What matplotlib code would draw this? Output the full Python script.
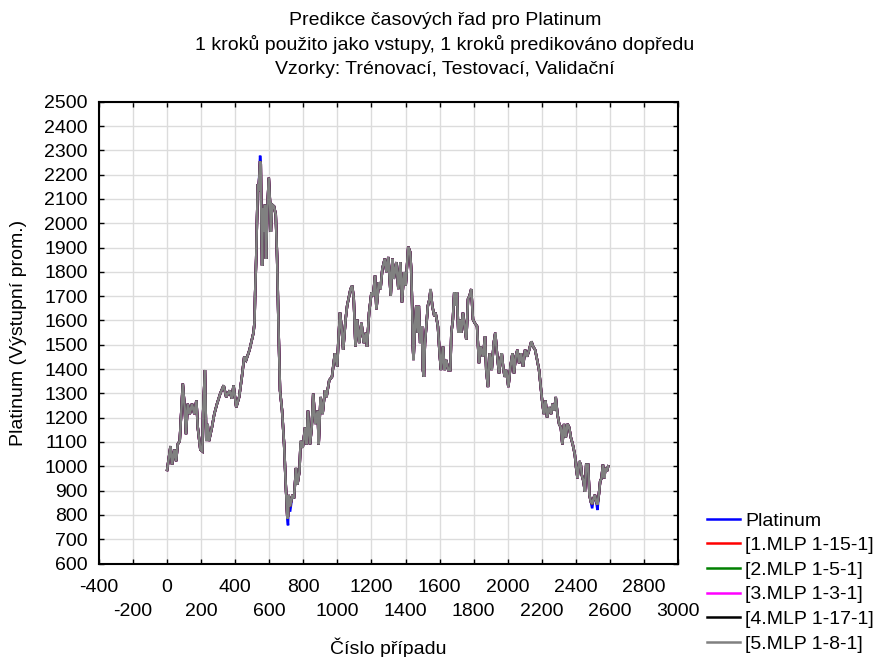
"""
plot.py

Time-series prediction chart for Platinum (Statistica style):
actual series plus five MLP one-step predictions.

Usage:
    python plot.py
"""

import matplotlib
matplotlib.use("Agg")
import matplotlib.pyplot as plt

plt.rcParams["font.family"] = ["Liberation Sans", "DejaVu Sans"]

# -------------------------------------------------------------------
# Data
# -------------------------------------------------------------------

cases = [
    0, 20, 29, 43, 53, 62, 74, 92, 103, 111, 121, 133, 146, 160, 172, 180,
    195, 207, 211, 222, 230, 238, 246, 263, 277, 293, 312, 332, 347, 367,
    380, 390, 406, 423, 439, 453, 464, 484, 498, 507, 513, 517, 523, 527,
    533, 537, 546, 550, 554, 558, 562, 568, 574, 581, 589, 597, 605, 609,
    617, 628, 638, 646, 654, 663, 675, 687, 695, 706, 710, 714, 722, 736,
    745, 757, 765, 777, 784, 796, 810, 819, 827, 839, 849, 858, 870, 884,
    890, 901, 913, 927, 936, 952, 968, 985, 999, 1005, 1015, 1024, 1034,
    1048, 1057, 1077, 1087, 1096, 1106, 1116, 1128, 1141, 1155, 1167, 1174,
    1186, 1200, 1210, 1221, 1229, 1243, 1253, 1264, 1278, 1288, 1299, 1313,
    1323, 1331, 1346, 1358, 1370, 1379, 1391, 1401, 1416, 1427, 1433, 1439,
    1443, 1447, 1455, 1463, 1471, 1478, 1486, 1496, 1502, 1508, 1514, 1522,
    1531, 1541, 1547, 1557, 1569, 1576, 1590, 1600, 1608, 1620, 1629, 1639,
    1651, 1663, 1669, 1678, 1686, 1694, 1702, 1710, 1718, 1727, 1737, 1747,
    1757, 1767, 1776, 1786, 1796, 1806, 1820, 1831, 1841, 1855, 1867, 1874,
    1884, 1894, 1906, 1918, 1927, 1937, 1949, 1957, 1965, 1973, 1982, 1992,
    2004, 2016, 2028, 2037, 2047, 2057, 2067, 2078, 2090, 2102, 2114, 2126,
    2139, 2149, 2161, 2173, 2184, 2194, 2202, 2212, 2222, 2231, 2243, 2255,
    2263, 2274, 2282, 2292, 2302, 2312, 2321, 2331, 2341, 2351, 2361, 2371,
    2382, 2394, 2402, 2410, 2420, 2429, 2435, 2445, 2453, 2461, 2472, 2480,
    2488, 2496, 2504, 2512, 2520, 2527, 2535, 2543, 2551, 2559, 2567, 2574,
    2582, 2590,
]

platinum = [
    985, 1083, 1007, 1069, 1021, 1090, 1104, 1340, 1243, 1132, 1257, 1215,
    1257, 1215, 1271, 1160, 1069, 1062, 1215, 1396, 1104, 1174, 1104, 1160,
    1215, 1257, 1299, 1333, 1285, 1312, 1278, 1333, 1243, 1285, 1368, 1451,
    1437, 1479, 1521, 1549, 1590, 1715, 1854, 1993, 2160, 2132, 2278, 2243,
    1993, 1826, 2062, 1965, 2076, 1854, 2062, 2187, 2076, 1965, 2076, 2069,
    2035, 1854, 1576, 1312, 1229, 1090, 951, 785, 757, 882, 813, 882, 868,
    993, 924, 979, 1104, 1076, 1160, 1090, 1229, 1090, 1160, 1299, 1174,
    1229, 1090, 1285, 1215, 1312, 1285, 1354, 1368, 1465, 1410, 1507, 1632,
    1576, 1479, 1604, 1660, 1729, 1743, 1688, 1493, 1604, 1507, 1590, 1507,
    1549, 1493, 1632, 1715, 1701, 1785, 1646, 1757, 1729, 1813, 1854, 1799,
    1861, 1701, 1854, 1771, 1840, 1729, 1840, 1674, 1799, 1743, 1903, 1882,
    1813, 1660, 1493, 1437, 1576, 1660, 1549, 1660, 1507, 1576, 1396, 1368,
    1507, 1576, 1660, 1688, 1729, 1660, 1618, 1632, 1576, 1465, 1396, 1493,
    1396, 1437, 1396, 1396, 1549, 1604, 1715, 1660, 1715, 1549, 1604, 1549,
    1632, 1576, 1521, 1688, 1701, 1729, 1604, 1590, 1576, 1424, 1493, 1451,
    1535, 1396, 1326, 1465, 1396, 1507, 1549, 1465, 1382, 1437, 1465, 1410,
    1368, 1396, 1326, 1410, 1465, 1382, 1451, 1479, 1424, 1465, 1410, 1479,
    1451, 1479, 1514, 1493, 1479, 1437, 1396, 1326, 1271, 1215, 1271, 1201,
    1243, 1215, 1257, 1229, 1285, 1215, 1174, 1160, 1090, 1174, 1118, 1174,
    1160, 1118, 1090, 1049, 993, 951, 1021, 1007, 965, 938, 896, 1007, 1007,
    882, 854, 827, 868, 882, 854, 820, 882, 938, 951, 1007, 951, 993, 979,
    1000,
]

# model predictions follow the actual series except at a few extremes,
# where the blue actual line sticks out
pred_overrides = {546: 2255, 710: 795, 722: 835, 2496: 845, 2527: 842}

series_labels = [
    "Platinum",
    "[1.MLP 1-15-1]",
    "[2.MLP 1-5-1]",
    "[3.MLP 1-3-1]",
    "[4.MLP 1-17-1]",
    "[5.MLP 1-8-1]",
]
series_colors = ["#0000ff", "#ff0000", "#008000", "#ff00ff", "#000000", "#808080"]

title_lines = [
    "Predikce časových řad pro Platinum",
    "1 kroků použito jako vstupy, 1 kroků predikováno dopředu",
    "Vzorky: Trénovací, Testovací, Validační",
]

x_major = list(range(-400, 2801, 400))
x_minor = list(range(-200, 3001, 400))
y_ticks = list(range(600, 2501, 100))

FONT = 14

# -------------------------------------------------------------------
# Plot
# -------------------------------------------------------------------

fig = plt.figure(figsize=(8.8, 6.57), dpi=100)
ax = fig.add_axes([99 / 880, 1 - 563.5 / 657, 579 / 880, 461.8 / 657])

predicted = [pred_overrides.get(c, v) for c, v in zip(cases, platinum)]

handles = []
for i, (label, color) in enumerate(zip(series_labels, series_colors)):
    values = platinum if i == 0 else predicted
    (line,) = ax.plot(cases, values, color=color, linewidth=1.8, label=label,
                      solid_joinstyle="miter")
    handles.append(line)

ax.set_xlim(-400, 3000)
ax.set_ylim(600, 2500)

ax.set_xticks(x_major)
ax.set_xticklabels([str(v) for v in x_major])
ax.set_xticks(x_minor, minor=True)
ax.set_xticklabels([str(v) for v in x_minor], minor=True)
ax.set_yticks(y_ticks)
ax.set_yticklabels([str(v) for v in y_ticks])

ax.tick_params(axis="both", which="both", direction="in", length=3.5,
               width=1, top=True, right=True, labelsize=FONT, color="black")
ax.tick_params(axis="x", which="major", pad=11)
ax.tick_params(axis="x", which="minor", pad=28.5)
ax.tick_params(axis="y", pad=8)

ax.grid(True, which="both", color="#dcdcdc", linewidth=1)
ax.set_axisbelow(True)
for spine in ax.spines.values():
    spine.set_linewidth(1.5)

for i, text in enumerate(title_lines):
    fig.text(445 / 880, 1 - (20.5 + 24.5 * i) / 657, text, ha="center",
             va="center", fontsize=FONT)

fig.text(19 / 880, 1 - 332.6 / 657, "Platinum (Výstupní prom.)",
         rotation=90, ha="center", va="center", fontsize=FONT)
fig.text(388.5 / 880, 1 - 648 / 657, "Číslo případu", ha="center",
         va="center", fontsize=FONT)

fig.legend(handles=handles, labels=series_labels, loc="upper left",
           bbox_to_anchor=(707 / 880, 1 - 512 / 657), frameon=False,
           fontsize=FONT, handlelength=1.7, handletextpad=0.25,
           labelspacing=0.36, borderpad=0, borderaxespad=0)

fig.savefig("out.png", dpi=100)
plt.close(fig)
print("Saved: out.png")
